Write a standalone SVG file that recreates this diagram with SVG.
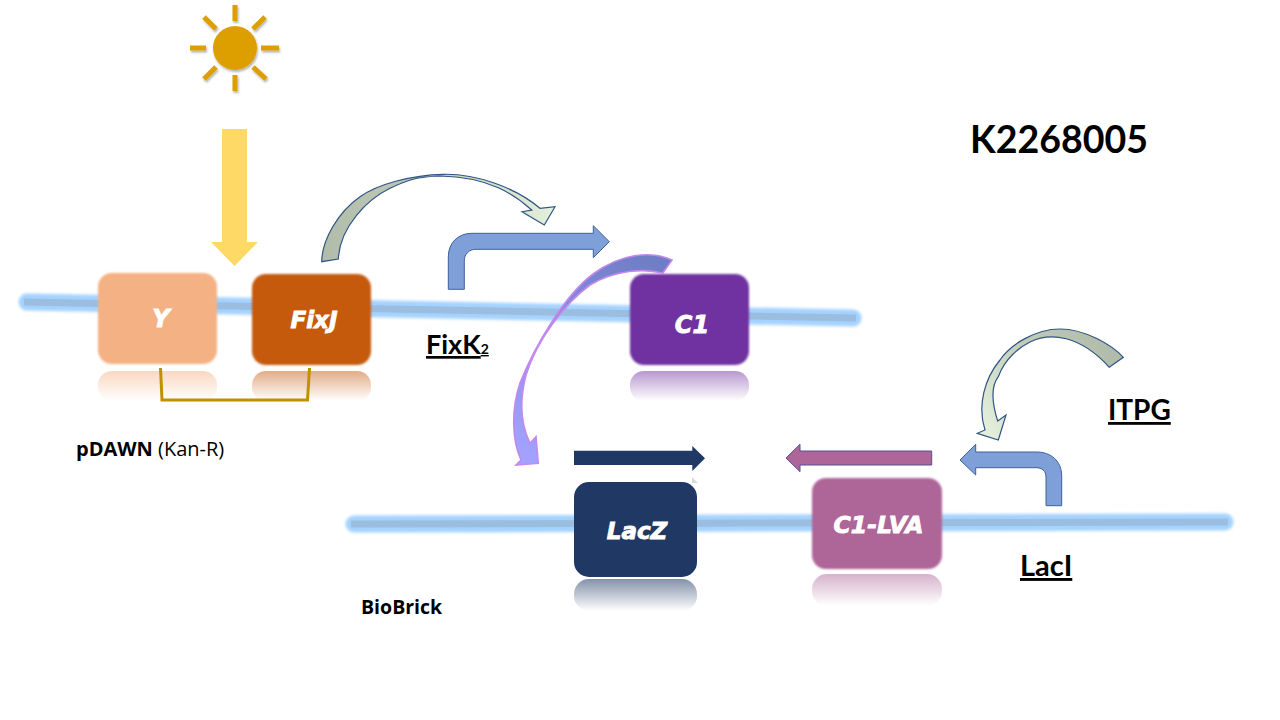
<svg xmlns="http://www.w3.org/2000/svg" width="1280" height="720" viewBox="0 0 1280 720">
<style>
.glow{fill:none;stroke:#a4d2ff;stroke-width:17;stroke-linecap:round;filter:url(#blur)}
.core{fill:none;stroke:#9bbde0;stroke-width:7}
.box{filter:url(#soft)}
.lab{font-family:"DejaVu Sans",sans-serif;font-weight:700;font-style:italic;fill:#fff;text-anchor:middle;font-size:22px;stroke:#fff;stroke-width:.9}
.t{font-family:"Lato","Open Sans",sans-serif;font-weight:700;fill:#000}
.o{font-family:"Open Sans","Noto Sans",sans-serif;font-weight:700;fill:#000}
.u{text-decoration:underline}
.blue{fill:#7f9fd8;stroke:#3f6199;stroke-width:1}
.arc{stroke:#2f5585;stroke-width:1.2}
.ray{stroke:#dd9f00;stroke-width:5}
</style>
<defs>
<filter id="soft" x="-5%" y="-5%" width="110%" height="110%"><feGaussianBlur stdDeviation="0.9"/></filter>
<filter id="blur" filterUnits="userSpaceOnUse" x="0" y="260" width="1280" height="300"><feGaussianBlur stdDeviation="1.8"/></filter>
<filter id="sh" x="-20%" y="-20%" width="140%" height="140%"><feDropShadow dx="1" dy="2" stdDeviation="1.2" flood-color="#000" flood-opacity=".3"/></filter>
<linearGradient id="rY" x1="0" y1="0" x2="0" y2="1"><stop offset="0" stop-color="#f4b183" stop-opacity=".5"/><stop offset="1" stop-color="#f4b183" stop-opacity="0"/></linearGradient>
<linearGradient id="rF" x1="0" y1="0" x2="0" y2="1"><stop offset="0" stop-color="#c55a11" stop-opacity=".5"/><stop offset="1" stop-color="#c55a11" stop-opacity="0"/></linearGradient>
<linearGradient id="rC" x1="0" y1="0" x2="0" y2="1"><stop offset="0" stop-color="#7030a0" stop-opacity=".5"/><stop offset="1" stop-color="#7030a0" stop-opacity="0"/></linearGradient>
<linearGradient id="rL" x1="0" y1="0" x2="0" y2="1"><stop offset="0" stop-color="#1f3864" stop-opacity=".55"/><stop offset="1" stop-color="#1f3864" stop-opacity="0"/></linearGradient>
<linearGradient id="rV" x1="0" y1="0" x2="0" y2="1"><stop offset="0" stop-color="#ae6597" stop-opacity=".5"/><stop offset="1" stop-color="#ae6597" stop-opacity="0"/></linearGradient>
<linearGradient id="a1" gradientUnits="userSpaceOnUse" x1="325" y1="250" x2="550" y2="215"><stop offset="0" stop-color="#b2bcab"/><stop offset=".45" stop-color="#bfc9b7"/><stop offset="1" stop-color="#e3efda"/></linearGradient>
<linearGradient id="a2" gradientUnits="userSpaceOnUse" x1="1115" y1="360" x2="990" y2="435"><stop offset="0" stop-color="#b2bcab"/><stop offset=".5" stop-color="#c2ccba"/><stop offset="1" stop-color="#e3efda"/></linearGradient>
<linearGradient id="a3" gradientUnits="userSpaceOnUse" x1="660" y1="260" x2="530" y2="465"><stop offset="0" stop-color="#6f7dc4"/><stop offset="1" stop-color="#a3a3ff"/></linearGradient>
</defs>

<g id="dna-1"><path class="glow" d="M27,302 L853,318"/><path class="core" d="M24,302 L856,318"/></g>
<g id="dna-2"><path class="glow" d="M354,524 L1225,522"/><path class="core" d="M351,524 L1228,522"/></g>

<g id="sun" filter="url(#sh)">
<circle cx="235" cy="48" r="22" fill="#dd9f00"/>
<path class="ray" d="M235,5V21M235,75V91M190,48H206M261,48H279M204,17L216,29M265,17L253,29M204,79L216,67M266,79L253,67"/>
</g>

<g id="node-y">
<rect x="98" y="371" width="119" height="30" rx="14" fill="url(#rY)"/>
<rect class="box" x="98" y="273" width="119" height="91" rx="14" fill="#f4b183"/>
<text class="lab" x="161" y="327" style="font-size:24px">Y</text>
</g>
<g id="node-fixj">
<rect x="252" y="371" width="119" height="30" rx="14" fill="url(#rF)"/>
<rect class="box" x="252" y="274" width="119" height="91" rx="14" fill="#c55a11"/>
<text class="lab" x="314" y="328" style="font-size:23px">FixJ</text>
</g>
<g id="node-c1">
<rect x="630" y="371" width="119" height="30" rx="14" fill="url(#rC)"/>
<rect class="box" x="630" y="274" width="119" height="91" rx="14" fill="#7030a0"/>
<text class="lab" x="692" y="333" style="font-size:24px">C1</text>
</g>
<g id="node-lacz">
<rect x="574" y="579" width="123" height="32" rx="15" fill="url(#rL)"/>
<rect x="574" y="482" width="123" height="95" rx="15" fill="#1f3864"/>
<text class="lab" x="637" y="539" style="font-size:23px">LacZ</text>
</g>
<g id="node-c1-lva">
<rect x="812" y="574" width="130" height="32" rx="15" fill="url(#rV)"/>
<rect class="box" x="812" y="478" width="130" height="91" rx="14" fill="#ae6597"/>
<text class="lab" x="878.500" y="533" style="font-size:23.500px">C1-LVA</text>
</g>

<g id="connectors">
<path d="M222,129H247V242H258L234.500,266L211,242H222Z" fill="#ffd966"/>
<path d="M160.500,368L162,400H307.500L309.500,368" fill="none" stroke="#bf9000" stroke-width="3"/>
<path class="arc" fill="url(#a1)" d="M321.700,261.700C322,240 338,212 360,196.700C378,184 412,175 443.300,174.300C475,173.500 515,187 540,208.300L555,206.700L544.300,225L522,211.700L531.700,210C515,195 490,177 440,176C415,176.500 403,182 390,188.300C368,199 340,226 338.300,259Z"/>
<path class="blue" d="M448.300,289.300V257C448.300,243 458,233.300 472,233.300H593.300V225.700L609.300,241.700L593.300,257.700V249.300H476C469,249.300 464.300,254 464.300,261V289.300Z"/>
<path fill="url(#a3)" stroke="#c488f0" stroke-width="1.600" d="M672,260C650,250 620,254 593,274C565,295 535,345 520,383C511,410 512,440 521,460L516,465L538.300,463.300L536,436.700L530,443.300C521,425 519,402 526,375C537,340 565,303 590,285C615,270 645,268 662.700,273.300Z"/>
<path d="M574,450.700H692.300V446L705,458.300L692.300,471V465H574Z" fill="#1f3864"/>
<path d="M692,477L698,483H692Z" fill="#d5d9e0"/>
<path d="M931.700,451V465H800V471.700L786,458L800,444.300V451Z" fill="#ae6597" stroke="#5b4f9a" stroke-width="1"/>
<path class="blue" d="M1061.700,505.700V476C1061.700,461 1051,452 1036.700,452H975.700V444.300L960,460L975.700,475V467.700H1036C1042,467.700 1046,471 1046,477V505.700Z"/>
<path class="arc" fill="url(#a2)" d="M1123.300,357.300C1112,345 1085,329 1060,329C1035,329 1010,345 1000,360C985,378 977,405 985,430L977.300,433.300L998.300,440L1006,415L997.700,421C991,400 992,385 998.300,376.700C1005,358 1020,347 1030,342C1050,332 1080,335 1109.300,367.300Z"/>
</g>

<g id="labels">
<text class="t" x="970" y="153" font-size="37.500">K2268005</text>
<text class="t u" x="426" y="354" font-size="27">FixK<tspan font-size="14">2</tspan></text>
<text class="t u" x="1108" y="420" font-size="28">ITPG</text>
<text class="t u" x="1020" y="576" font-size="29">LacI</text>
<text class="o" x="76" y="456" font-size="20">pDAWN <tspan font-weight="400">(Kan-R)</tspan></text>
<text class="o" x="361" y="614" font-size="19.500">BioBrick</text>
</g>
</svg>
